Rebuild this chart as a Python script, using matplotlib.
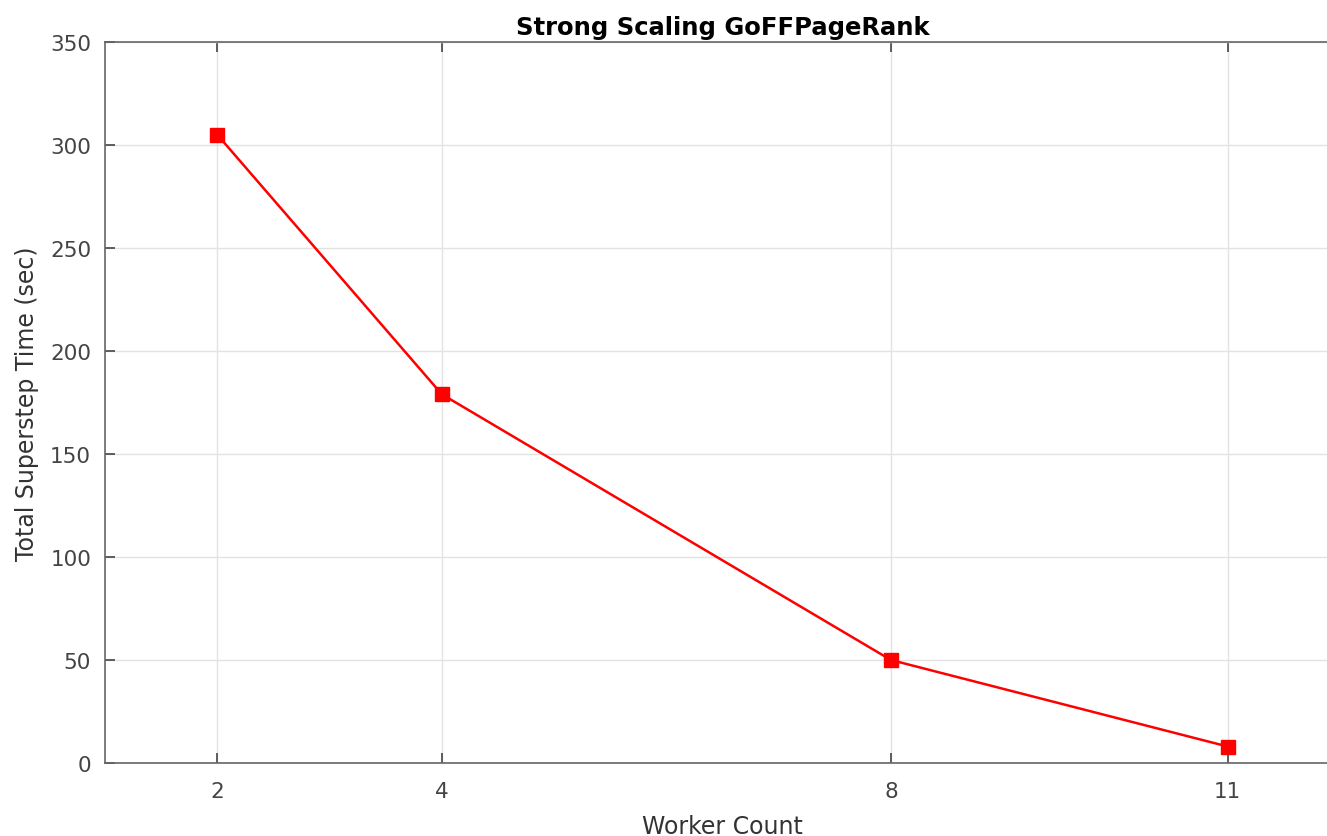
import matplotlib.pyplot as plt

workers = [2, 4, 8, 11]
superstep_time = [305, 179, 50, 8]

fig = plt.figure(figsize=(13.27, 8.37), dpi=100)
# axes runs past the right edge like in the original screenshot
ax = fig.add_axes([105 / 1327, 73 / 837, 1235 / 1327, 721 / 837])

ax.plot(workers, superstep_time, color='red', linewidth=1.8,
        marker='s', markersize=10, markerfacecolor='red', markeredgecolor='red')

ax.set_xlim(1, 12)
ax.set_ylim(0, 350)
ax.set_xticks(workers)
ax.set_yticks(range(0, 351, 50))
ax.grid(True, color='#e3e3e3', linewidth=1)
ax.set_axisbelow(True)

ax.tick_params(direction='in', length=7, width=1.2, colors='#444444',
               labelsize=15.5, pad=10, top=True, right=True)
ax.tick_params(axis='x', pad=13)
for s in ax.spines.values():
    s.set_color('#666666')
    s.set_linewidth(1.2)

ax.set_xlabel('Worker Count', fontsize=17, color='#333333', labelpad=9)
ax.set_ylabel('Total Superstep Time (sec)', fontsize=17, color='#333333', labelpad=8)
ax.set_title('Strong Scaling GoFFPageRank', fontsize=17.5, fontweight='bold', pad=6)

fig.savefig('out.png', dpi=100)
